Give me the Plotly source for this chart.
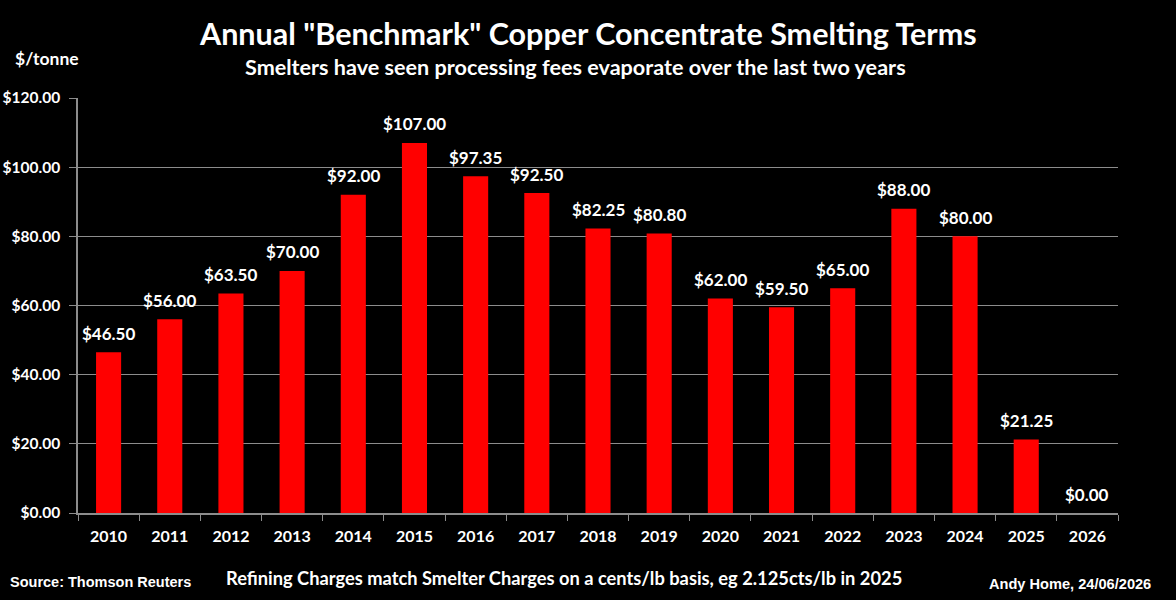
import plotly.graph_objects as go

years = ["2010", "2011", "2012", "2013", "2014", "2015", "2016", "2017", "2018",
         "2019", "2020", "2021", "2022", "2023", "2024", "2025", "2026"]
values = [46.50, 56.00, 63.50, 70.00, 92.00, 107.00, 97.35, 92.50, 82.25,
          80.80, 62.00, 59.50, 65.00, 88.00, 80.00, 21.25, 0.00]
y_ticks = [0, 20, 40, 60, 80, 100, 120]
y_tick_labels = ["$%.2f" % v for v in y_ticks]

FONT = "Lato"
GRID = "#8c8c8c"
fig = go.Figure()
fig.add_trace(go.Bar(
    x=years, y=values,
    marker=dict(color="#ff0000", line=dict(width=0)),
    hoverinfo="x+y",
))

# value labels above bars (x is the category index on the category axis)
for i, v in enumerate(values):
    fig.add_annotation(x=i, y=v, xref="x", yref="y",
                       text="<b>$%.2f</b>" % v, showarrow=False,
                       yshift=19, xanchor="center", yanchor="middle",
                       font=dict(size=17, color="white", family=FONT))

fig.update_layout(
    width=1176, height=600,
    paper_bgcolor="black", plot_bgcolor="black",
    margin=dict(l=78, r=58, t=98, b=87, autoexpand=False),
    bargap=0.59,
    showlegend=False,
    font=dict(family=FONT, color="white"),
    xaxis=dict(
        type="category", showgrid=False, automargin=False,
        categoryorder="array", categoryarray=years,
        range=[-0.5, len(years) - 0.5],
        showline=True, linecolor=GRID, linewidth=1.5,
        ticks="outside", tickson="boundaries", ticklen=6, tickcolor=GRID,
        ticklabelstandoff=8,
        tickfont=dict(size=16, color="white", family=FONT, weight="bold"),
    ),
    yaxis=dict(
        range=[0, 120], tickmode="array", tickvals=y_ticks, ticktext=y_tick_labels,
        automargin=False,
        showgrid=True, gridcolor=GRID, gridwidth=1,
        showline=True, linecolor=GRID, linewidth=1.5,
        ticks="outside", ticklen=7, tickcolor=GRID,
        ticklabelstandoff=6,
        tickfont=dict(size=15.5, color="white", family=FONT, weight="bold"),
        zeroline=False,
    ),
)

def px_to_paper_y(py):
    return (600 - 87 - py) / (600 - 98 - 87)

def px_to_paper_x(px):
    return (px - 78) / (1176 - 78 - 58)

fig.add_annotation(text="<b>Annual \"Benchmark\" Copper Concentrate Smelting Terms</b>",
                   xref="paper", yref="paper", x=px_to_paper_x(588), y=px_to_paper_y(33),
                   showarrow=False, font=dict(size=30.5, color="white"),
                   xanchor="center", yanchor="middle")
fig.add_annotation(text="<b>Smelters have seen processing fees evaporate over the last two years</b>",
                   xref="paper", yref="paper", x=px_to_paper_x(575), y=px_to_paper_y(67),
                   showarrow=False, font=dict(size=21.6, color="white"),
                   xanchor="center", yanchor="middle")
fig.add_annotation(text="<b>$/tonne</b>",
                   xref="paper", yref="paper", x=px_to_paper_x(13), y=px_to_paper_y(59),
                   showarrow=False, font=dict(size=17.5, color="white"),
                   xanchor="left", yanchor="middle")
fig.add_annotation(text="<b>Refining Charges match Smelter Charges on a cents/lb basis, eg 2.125cts/lb in 2025</b>",
                   xref="paper", yref="paper", x=px_to_paper_x(564), y=px_to_paper_y(578),
                   showarrow=False, font=dict(size=18.3, color="white"),
                   xanchor="center", yanchor="middle")
fig.add_annotation(text="<b>Source: Thomson Reuters</b>",
                   xref="paper", yref="paper", x=px_to_paper_x(8), y=px_to_paper_y(582),
                   showarrow=False, font=dict(size=14.5, color="white", family="Liberation Sans"),
                   xanchor="left", yanchor="middle")
fig.add_annotation(text="<b>Andy Home, 24/06/2026</b>",
                   xref="paper", yref="paper", x=px_to_paper_x(1153), y=px_to_paper_y(584),
                   showarrow=False, font=dict(size=14.6, color="white", family="Liberation Sans"),
                   xanchor="right", yanchor="middle")

fig.write_html("out.html")
